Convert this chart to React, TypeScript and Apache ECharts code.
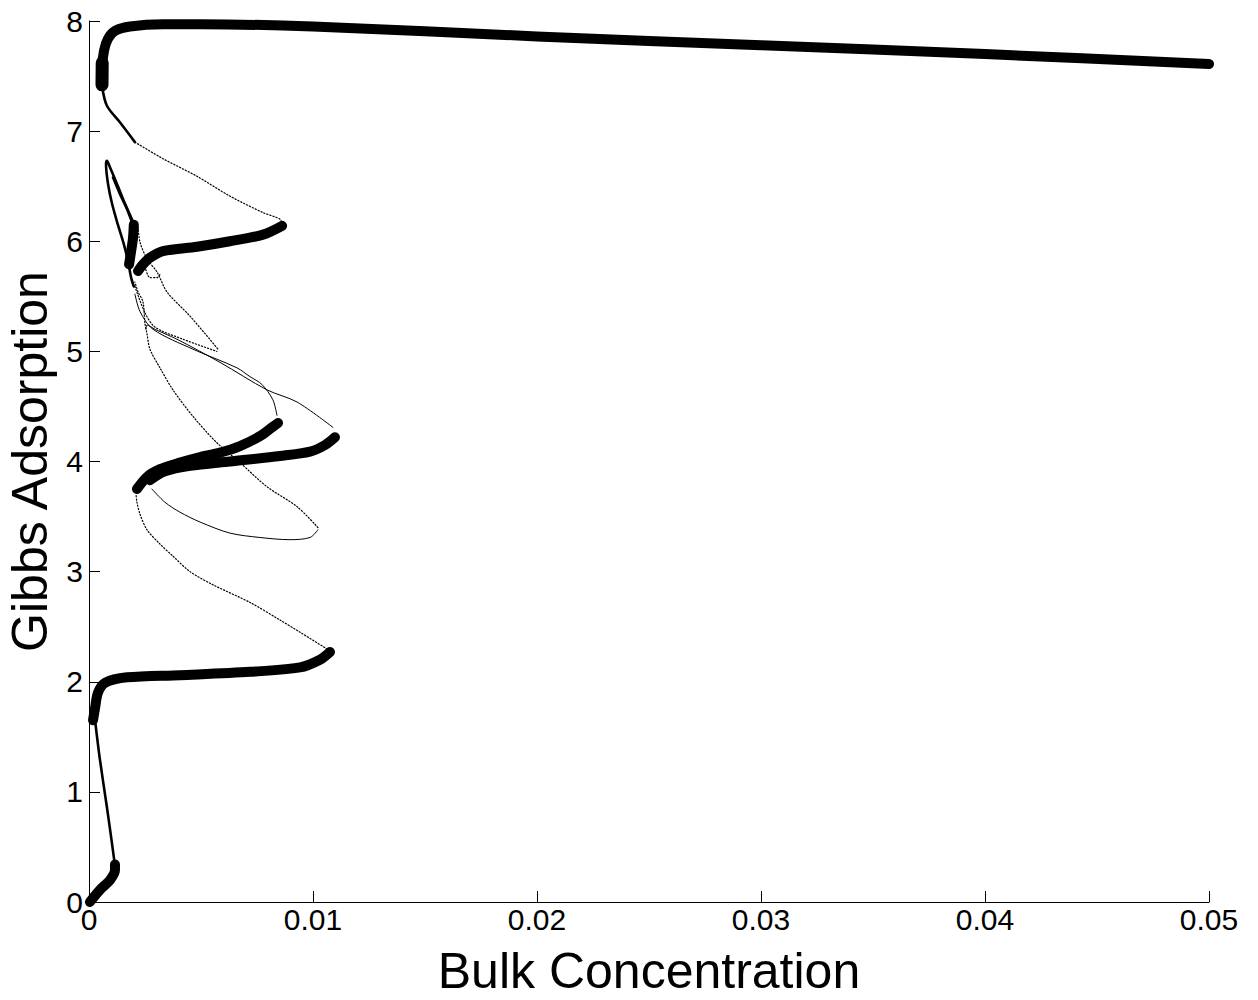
import React, { useEffect, useRef } from "react";
import * as echarts from "echarts";

const xTicks = [0, 0.01, 0.02, 0.03, 0.04, 0.05];
const yTicks = [0, 1, 2, 3, 4, 5, 6, 7, 8];

// Thick (stable) branches
const thickBottom = [[0.00004, 0], [0.00049, 0.11], [0.00094, 0.2], [0.00116, 0.29], [0.00116, 0.34]];
const thickSecond = [[0.00018, 1.65], [0.00027, 1.76], [0.0004, 1.9], [0.00071, 1.99], [0.0017, 2.04], [0.00406, 2.06], [0.00719, 2.09], [0.00942, 2.13], [0.01031, 2.2], [0.01076, 2.27]];
const thickZUpper = [[0.00214, 3.75], [0.00259, 3.86], [0.00317, 3.93], [0.00406, 3.99], [0.00496, 4.04], [0.00585, 4.08], [0.00674, 4.14], [0.00763, 4.23], [0.00817, 4.31], [0.00844, 4.35]];
const thickZLower = [[0.00272, 3.83], [0.00339, 3.91], [0.00451, 3.96], [0.00629, 4.0], [0.00853, 4.05], [0.00987, 4.09], [0.01054, 4.15], [0.01098, 4.22]];
const thickSixth = [[0.00862, 6.14], [0.00777, 6.06], [0.00629, 6.0], [0.00482, 5.95], [0.0033, 5.91], [0.00272, 5.85], [0.00241, 5.79], [0.00219, 5.73]];
const thickBlob = [[0.002, 6.15], [0.00196, 6.02], [0.00188, 5.91], [0.00179, 5.79]];
const thickTop = [[0.00058, 7.41], [0.00058, 7.56], [0.00067, 7.73], [0.00085, 7.84], [0.00116, 7.91], [0.00183, 7.95], [0.0033, 7.97], [0.00496, 7.97], [0.01, 7.95], [0.02, 7.86], [0.03, 7.78], [0.04, 7.7], [0.05, 7.61]];
const thickTopBlob = [[0.00058, 7.42], [0.00059, 7.62]];

// Medium branches
const medLow = [[0.00116, 0.33], [0.00098, 0.6], [0.0008, 0.86], [0.00049, 1.29], [0.00027, 1.65]];
const medTop = [[0.00205, 6.9], [0.00138, 7.08], [0.0008, 7.23], [0.00058, 7.41]];
const medLens = [[0.00196, 6.18], [0.00161, 6.34], [0.00125, 6.52], [0.00094, 6.67], [0.0008, 6.73], [0.00076, 6.7], [0.00085, 6.52], [0.00103, 6.34], [0.00129, 6.15], [0.00156, 5.97], [0.00174, 5.82], [0.00188, 5.67], [0.002, 5.59]];
const medInner = [[0.00107, 6.58], [0.00138, 6.43], [0.0017, 6.29], [0.00196, 6.15]];

// Thin (unstable) branches
const thinA = [[0.01076, 2.28], [0.00942, 2.45], [0.00853, 2.56], [0.00719, 2.72], [0.00554, 2.88], [0.00451, 3.0], [0.00375, 3.14], [0.00317, 3.25], [0.00259, 3.38], [0.00228, 3.52], [0.00214, 3.63], [0.0021, 3.7]];
const thinLoop = [[0.00281, 3.75], [0.00339, 3.63], [0.00406, 3.54], [0.00496, 3.45], [0.00629, 3.35], [0.00763, 3.31], [0.00897, 3.29], [0.00987, 3.31], [0.01022, 3.38]];
const thinBack = [[0.01022, 3.4], [0.00929, 3.59], [0.00795, 3.77], [0.00674, 3.99], [0.00571, 4.17], [0.00464, 4.41], [0.00375, 4.65], [0.00317, 4.85], [0.00272, 5.02], [0.00259, 5.16], [0.0025, 5.25], [0.00241, 5.45], [0.00219, 5.54], [0.00205, 5.63]];
const thinFromB = [[0.01089, 4.31], [0.00929, 4.54], [0.00795, 4.65], [0.00585, 4.9], [0.00393, 5.11], [0.00295, 5.2], [0.00259, 5.24], [0.00254, 5.2]];
const thinFromA = [[0.00839, 4.42], [0.00821, 4.56], [0.00772, 4.7], [0.00719, 4.77], [0.00661, 4.85], [0.00464, 5.02], [0.00286, 5.2], [0.00228, 5.36], [0.00205, 5.52]];
const thinTipUpper = [[0.00219, 6.13], [0.00228, 5.99], [0.00259, 5.84], [0.00304, 5.72], [0.00348, 5.54], [0.00451, 5.32], [0.00576, 5.02]];
const thinTipLower = [[0.00205, 5.59], [0.0025, 5.35], [0.00295, 5.22], [0.0042, 5.11], [0.00571, 5.0]];
const thinHook = [[0.0025, 5.77], [0.00272, 5.67], [0.00304, 5.67], [0.00317, 5.7]];
const thinTop = [[0.00205, 6.9], [0.0033, 6.75], [0.00482, 6.59], [0.00629, 6.41], [0.00777, 6.26], [0.00853, 6.2], [0.00862, 6.15]];

const thickSets = [thickBottom, thickSecond, thickZUpper, thickZLower, thickSixth, thickBlob, thickTop];
const medSets = [medLow, medTop, medLens, medInner];
const thinSolidSets = [thinLoop, thinFromB, thinFromA];
const thinDotSets = [thinA, thinBack, thinTipUpper, thinTipLower, thinHook, thinTop];

function mk(data: number[][], width: number, type: any) {
  return {
    type: "line",
    data,
    showSymbol: false,
    symbol: "none",
    smooth: 0.3,
    clip: false,
    silent: true,
    lineStyle: { color: "#000", width, type, cap: "round", join: "round" },
  };
}

export default function App() {
  const ref = useRef<HTMLDivElement>(null);
  useEffect(() => {
    document.body.style.margin = "0";
    const chart = echarts.init(ref.current!, null, { renderer: "svg" });
    const font = "'Liberation Sans', Arial, sans-serif";
    chart.setOption({
      animation: false,
      backgroundColor: "#fff",
      grid: { left: 89, top: 21, right: 49, bottom: 98, containLabel: false, outerBoundsMode: "none" },
      xAxis: {
        type: "value",
        min: xTicks[0],
        max: xTicks[xTicks.length - 1],
        interval: 0.01,
        name: "Bulk Concentration",
        nameLocation: "middle",
        nameGap: 44,
        nameTextStyle: { fontSize: 50, color: "#000", fontFamily: font },
        axisLine: { show: true, lineStyle: { color: "#000", width: 1 } },
        axisTick: { show: true, inside: true, length: 11, lineStyle: { color: "#000" } },
        axisLabel: { fontSize: 30, color: "#000", fontFamily: font, margin: 2, formatter: (v: number) => String(parseFloat(v.toFixed(2))) },
        splitLine: { show: false },
      },
      yAxis: {
        type: "value",
        min: yTicks[0],
        max: yTicks[yTicks.length - 1],
        interval: 1,
        name: "Gibbs Adsorption",
        nameLocation: "middle",
        nameGap: 23,
        nameTextStyle: { fontSize: 50, color: "#000", fontFamily: font },
        axisLine: { show: true, lineStyle: { color: "#000", width: 1 } },
        axisTick: { show: true, inside: true, length: 11, lineStyle: { color: "#000" } },
        axisLabel: { fontSize: 30, color: "#000", fontFamily: font, margin: 6 },
        splitLine: { show: false },
      },
      series: [
        ...thinDotSets.map((d) => mk(d, 1.2, [1.2, 2])),
        ...thinSolidSets.map((d) => mk(d, 1, "solid")),
        ...medSets.map((d) => mk(d, 2.6, "solid")),
        ...thickSets.map((d) => mk(d, 10, "solid")),
        mk(thickTopBlob, 13, "solid"),
      ],
    });
    return () => chart.dispose();
  }, []);
  return <div ref={ref} style={{ width: 1258, height: 1000 }} />;
}
